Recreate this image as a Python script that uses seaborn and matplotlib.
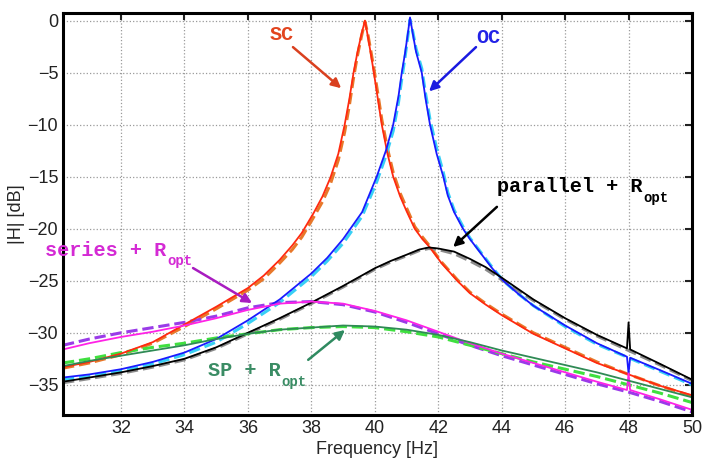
import numpy as np
import matplotlib
matplotlib.use("Agg")
import matplotlib.pyplot as plt
import seaborn as sns

# frequency grids [Hz] and magnitudes [dB]
f_sc = [30.17, 31, 32, 33, 34, 35, 36, 36.5, 37, 37.4, 37.7, 38.07, 38.35, 38.6,
        38.85, 39.05, 39.2, 39.33, 39.45, 39.58, 39.69, 39.78, 39.88, 39.97, 40.1,
        40.22, 40.4, 40.58, 40.8, 41.0, 41.26, 41.5, 41.74, 42.1, 42.6, 43, 43.5,
        44, 45, 46, 47, 48, 49, 50]
sc_meas = [-33.3, -32.8, -32.0, -30.9, -29.2, -27.5, -25.7, -24.5, -23.0, -21.6,
           -20.4, -18.5, -16.9, -15.1, -12.8, -10.0, -7.5, -5.0, -3.1, -1.3, 0.0,
           -1.5, -3.3, -5.0, -7.6, -10.0, -12.8, -15.0, -16.9, -18.3, -20.0, -21.0,
           -21.8, -23.3, -25.0, -26.2, -27.3, -28.3, -30.1, -31.5, -32.9, -34.0,
           -35.1, -36.0]
sc_fit = [-33.4, -32.9, -32.1, -31.0, -29.4, -27.7, -25.9, -24.8, -23.3, -22.0,
          -20.8, -18.9, -17.4, -15.7, -13.4, -10.7, -8.1, -5.5, -3.4, -1.5, -0.1,
          -1.3, -3.0, -4.6, -7.1, -9.5, -12.3, -14.6, -16.6, -18.0, -19.8, -20.8,
          -21.7, -23.2, -24.9, -26.1, -27.2, -28.2, -30.0, -31.4, -32.8, -34.0,
          -35.1, -36.1]

f_oc = [30.17, 31, 32, 33, 34, 35, 36, 37, 38, 38.5, 39, 39.6, 40.06, 40.35, 40.58,
        40.75, 40.85, 40.95, 41.03, 41.11, 41.2, 41.3, 41.48, 41.6, 41.74, 41.95,
        42.16, 42.3, 42.5, 42.78, 43.0, 43.3, 43.7, 44.05, 44.5, 45, 46, 47, 47.95,
        48.0, 48.05, 49, 50]
oc_meas = [-34.3, -34.0, -33.5, -32.8, -31.9, -30.6, -28.8, -26.8, -24.3, -22.8,
           -21.0, -18.4, -15.0, -12.5, -10.0, -7.2, -5.0, -3.2, -1.5, 0.3, -1.3,
           -3.0, -5.0, -7.5, -10.0, -12.8, -15.0, -16.8, -18.4, -20.0, -21.0, -22.2,
           -23.8, -25.0, -26.2, -27.4, -29.3, -31.0, -32.3, -33.9, -32.4, -33.6,
           -34.9]
f_oc_fit = [30.17, 31, 32, 33, 34, 35, 36, 37, 38, 38.5, 39, 39.6, 40.06, 40.35,
            40.58, 40.75, 40.85, 40.95, 41.03, 41.11, 41.2, 41.3, 41.48, 41.6, 41.74,
            41.95, 42.16, 42.3, 42.5, 42.78, 43.0, 43.3, 43.7, 44.05, 44.5, 45, 46,
            47, 48, 49, 50]
oc_fit = [-34.5, -34.2, -33.7, -33.0, -32.1, -30.9, -29.1, -27.1, -24.6, -23.1,
          -21.4, -18.8, -15.5, -13.0, -10.6, -7.8, -5.6, -3.6, -1.8, 0.1, -1.1,
          -2.7, -4.6, -7.0, -9.5, -12.3, -14.6, -16.5, -18.2, -19.8, -20.9, -22.1,
          -23.7, -25.0, -26.2, -27.4, -29.4, -31.1, -32.4, -33.7, -35.0]

f_par = [30.17, 31, 32, 33, 34, 35, 36, 37, 38, 39, 40, 40.5, 41, 41.4, 41.7, 42,
         42.5, 43, 43.5, 44, 45, 46, 47, 47.95, 48.0, 48.05, 49, 50]
par_meas = [-34.7, -34.3, -33.8, -33.2, -32.5, -31.4, -30.0, -28.6, -27.1, -25.5,
            -23.8, -23.1, -22.5, -22.0, -21.8, -21.9, -22.2, -22.9, -23.7, -24.7,
            -26.8, -28.6, -30.2, -31.5, -29.0, -31.6, -33.0, -34.5]
f_par_fit = [30.17, 31, 32, 33, 34, 35, 36, 37, 38, 39, 40, 40.5, 41, 41.4, 41.7,
             42, 42.5, 43, 43.5, 44, 45, 46, 47, 48, 49, 50]
par_fit = [-34.8, -34.4, -33.9, -33.3, -32.6, -31.5, -30.1, -28.7, -27.2, -25.6,
           -23.9, -23.2, -22.6, -22.1, -21.9, -22.0, -22.4, -23.1, -23.9, -24.9,
           -26.9, -28.7, -30.3, -31.7, -33.1, -34.6]

f_ser = [30.17, 31, 32, 33, 34, 35, 36, 37, 38, 39, 40, 41, 42, 43, 44, 45, 46, 47,
         47.95, 48.0, 48.05, 49, 50]
ser_meas = [-31.6, -31.0, -30.4, -29.9, -29.3, -28.6, -27.8, -27.2, -27.0, -27.2,
            -27.9, -28.8, -29.9, -31.0, -32.0, -32.9, -33.8, -34.7, -35.5, -33.9,
            -35.5, -36.4, -37.4]
f_ser_fit = [30.17, 31, 32, 33, 34, 35, 36, 37, 38, 39, 40, 41, 42, 43, 44, 45, 46,
             47, 48, 49, 50]
ser_fit = [-31.2, -30.6, -30.0, -29.5, -29.0, -28.4, -27.6, -27.1, -27.0, -27.3,
           -28.0, -29.0, -30.1, -31.2, -32.2, -33.1, -34.0, -34.9, -35.7, -36.6,
           -37.6]

f_sp = [30.17, 31, 32, 33, 34, 35, 36, 37, 38, 39, 40, 41, 42, 43, 44, 45, 46, 47,
        48, 49, 50]
sp_meas = [-33.2, -32.7, -32.2, -31.7, -31.2, -30.6, -30.1, -29.7, -29.5, -29.3,
           -29.4, -29.7, -30.2, -30.9, -31.7, -32.4, -33.1, -33.8, -34.6, -35.4,
           -36.2]
sp_fit = [-32.9, -32.5, -31.9, -31.4, -31.0, -30.5, -30.1, -29.7, -29.5, -29.4,
          -29.5, -29.9, -30.4, -31.2, -32.0, -32.8, -33.5, -34.2, -35.0, -35.8,
          -36.7]

x_ticks = [32, 34, 36, 38, 40, 42, 44, 46, 48, 50]
y_ticks = [-35, -30, -25, -20, -15, -10, -5, 0]

sns.set_style("white")
plt.rcParams['font.family'] = ['Liberation Sans', 'DejaVu Sans']

fig = plt.figure(figsize=(7.08, 4.61), dpi=100)
ax = fig.add_axes([63 / 708, 1 - 415 / 461, 629 / 708, 401.7 / 461])

# fitted models (dashed) under the measurements (solid)
fits = [(f_sc, sc_fit, '#e8782a'), (f_oc_fit, oc_fit, '#38d0f5'),
        (f_par_fit, par_fit, '#8c8c8c'), (f_ser_fit, ser_fit, '#9a3be8'),
        (f_sp, sp_fit, '#3fe03f')]
for fx, fy, col in fits:
    sns.lineplot(x=fx, y=fy, ax=ax, color=col, linewidth=2.2, linestyle='--',
                 estimator=None, sort=False)

meas = [(f_sc, sc_meas, '#ff2a10'), (f_oc, oc_meas, '#1a1aff'),
        (f_par, par_meas, 'black'), (f_ser, ser_meas, '#ff22e6'),
        (f_sp, sp_meas, '#2f8a55')]
for fx, fy, col in meas:
    sns.lineplot(x=fx, y=fy, ax=ax, color=col, linewidth=1.3,
                 estimator=None, sort=False)

ax.set_xlim(30.17, 50)
ax.set_ylim(-37.9, 0.7)
ax.set_xticks(x_ticks)
ax.set_yticks(y_ticks)
ax.set_yticklabels([str(v).replace('-', '\u2212') for v in y_ticks])
ax.grid(True, linestyle=':', color='#9a9a9a', linewidth=0.9)
ax.tick_params(direction='in', length=5, width=1.5, top=True, right=True,
               labelsize=13, colors='#222222')
for s in ax.spines.values():
    s.set_linewidth(2.2)
    s.set_color('black')
ax.set_xlabel('Frequency [Hz]', fontsize=13, labelpad=3)
ax.set_ylabel('|H| [dB]', fontsize=13, labelpad=2)

FS = 14.5
mono = dict(family='Liberation Mono', fontweight='bold')


def arw(c):
    return dict(arrowstyle='-|>', color=c, lw=1.8, mutation_scale=14,
                shrinkA=0, shrinkB=0)


def label(x, y, main, col, sub=None):
    ax.annotate(main, xy=(x, y), color=col, ha='left', va='baseline',
                fontsize=FS, annotation_clip=False, **mono)
    if sub:
        ax.annotate(sub, xy=(x, y), xytext=(len(main) * 0.6 * FS + 1, -7),
                    textcoords='offset points', color=col, ha='left',
                    va='baseline', fontsize=10, annotation_clip=False, **mono)


label(36.7, -1.9, 'SC', '#e2441e')
ax.annotate('', xy=(38.94, -6.5), xytext=(37.42, -2.55), arrowprops=arw('#d9401f'))

label(43.2, -2.2, 'OC', '#2222e6')
ax.annotate('', xy=(41.71, -6.8), xytext=(43.19, -2.55), arrowprops=arw('#1a1ae0'))

label(43.85, -16.5, 'parallel + R', 'black', 'opt')
ax.annotate('', xy=(42.47, -21.76), xytext=(43.85, -17.9), arrowprops=arw('black'))

label(29.6, -22.6, 'series + R', '#d42ad4', 'opt')
ax.annotate('', xy=(36.13, -27.14), xytext=(34.27, -23.78), arrowprops=arw('#a81cc0'))

label(34.74, -34.15, 'SP + R', '#3a8c64', 'opt')
ax.annotate('', xy=(39.06, -29.73), xytext=(37.9, -32.6), arrowprops=arw('#2f8a60'))

fig.savefig('out.png', dpi=100)
